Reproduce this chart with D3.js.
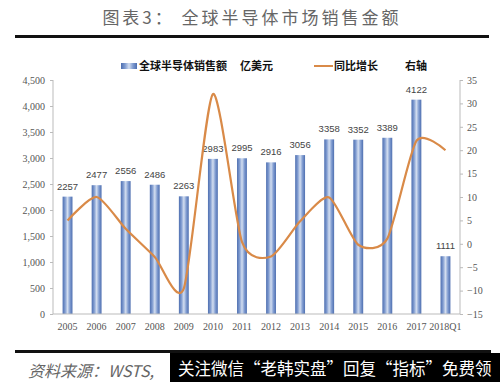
<!DOCTYPE html>
<html><head><meta charset="utf-8">
<script src="https://cdn.jsdelivr.net/npm/d3@7"></script>
<style>
html,body{margin:0;padding:0;background:#fff;}
svg{display:block;}
</style></head>
<body>
<script>
const categories = ["2005","2006","2007","2008","2009","2010","2011","2012","2013","2014","2015","2016","2017","2018Q1"];
const sales = [2257,2477,2556,2486,2263,2983,2995,2916,3056,3358,3352,3389,4122,1111];
const growth = [5,10,3.2,-2.8,-9.5,32,0.4,-2.7,4.8,9.9,-0.2,1.1,22,20];
const leftTicks = [0,500,1000,1500,2000,2500,3000,3500,4000,4500];
const rightTicks = [-15,-10,-5,0,5,10,15,20,25,30,35];

const W=500,H=382;
const svg=d3.select("body").append("svg").attr("width",W).attr("height",H);
const defs=svg.append("defs");
const g=defs.append("linearGradient").attr("id","bar").attr("x1","0").attr("x2","1").attr("y1","0").attr("y2","0");
[[0,"#4e6fb0"],[0.25,"#7f9bd0"],[0.5,"#d3def0"],[0.75,"#7f9bd0"],[1,"#4e6fb0"]].forEach(s=>g.append("stop").attr("offset",s[0]).attr("stop-color",s[1]));

const pL=53,pR=460,pT=80,pB=314;
const x=d3.scaleBand().domain(categories).range([pL,pR]).paddingInner(0.66).paddingOuter(0.33);
const yL=d3.scaleLinear().domain([0,4500]).range([pB,pT]);
const yR=d3.scaleLinear().domain([-15,35]).range([pB,pT]);

// title
svg.append("text").attr("x",252).attr("y",24).attr("text-anchor","middle")
  .attr("font-family","Noto Sans CJK SC").attr("font-size",17).attr("fill","#666")
  .attr("letter-spacing",3).text("图表3：  全球半导体市场销售金额");
svg.append("rect").attr("x",15).attr("y",35).attr("width",474).attr("height",3).attr("fill","#111");

// bars
svg.append("g").selectAll("rect").data(sales).join("rect")
  .attr("x",(d,i)=>x(categories[i])).attr("width",x.bandwidth())
  .attr("y",d=>yL(d)).attr("height",d=>pB-yL(d)).attr("fill","url(#bar)");
svg.append("g").selectAll("text").data(sales).join("text")
  .attr("x",(d,i)=>x(categories[i])+x.bandwidth()/2).attr("y",d=>yL(d)-7)
  .attr("text-anchor","middle").attr("font-family","Liberation Sans Narrow, Liberation Sans").attr("font-size",9.5).attr("fill","#444")
  .text(d=>d);

// line
const line=d3.line().x((d,i)=>x(categories[i])+x.bandwidth()/2).y(d=>yR(d)).curve(d3.curveCardinal.tension(0.3));
svg.append("path").datum(growth).attr("d",line).attr("fill","none").attr("stroke","#d98a48").attr("stroke-width",2.2);

// axes
const axL=svg.append("g").attr("transform",`translate(${pL},0)`).call(d3.axisLeft(yL).tickValues(leftTicks).tickSize(3).tickFormat(d3.format(",")));
const axR=svg.append("g").attr("transform",`translate(${pR},0)`).call(d3.axisRight(yR).tickValues(rightTicks).tickSize(3).tickFormat(d=>d<0?"−"+Math.abs(d):d));
const axB=svg.append("g").attr("transform",`translate(0,${pB})`).call(d3.axisBottom(x).tickSize(0).tickPadding(9));
[axL,axR,axB].forEach(a=>{
  a.selectAll("path,line").attr("stroke","#bbb");
  a.selectAll("text").attr("font-family","Liberation Serif").attr("font-size",10).attr("fill","#555");
});
axL.select(".domain").attr("d",`M0,${pT}V${pB}`);
axR.select(".domain").attr("d",`M0,${pT}V${pB}`);
axB.select(".domain").attr("d",`M${pL},0H${pR}`);
axL.selectAll("text").attr("x",-8);
axR.selectAll("text").attr("x",7);

// legend
const lg=svg.append("g");
lg.append("rect").attr("x",121).attr("y",63).attr("width",16).attr("height",6).attr("fill","url(#bar)");
lg.append("text").attr("x",139).attr("y",70).attr("font-family","Noto Sans CJK SC").attr("font-weight","bold").attr("font-size",11).attr("fill","#111").text("全球半导体销售额");
lg.append("text").attr("x",240).attr("y",70).attr("font-family","Noto Sans CJK SC").attr("font-weight","bold").attr("font-size",11).attr("fill","#111").text("亿美元");
lg.append("line").attr("x1",314).attr("x2",333).attr("y1",66).attr("y2",66).attr("stroke","#d98a48").attr("stroke-width",2);
lg.append("text").attr("x",334).attr("y",70).attr("font-family","Noto Sans CJK SC").attr("font-weight","bold").attr("font-size",11).attr("fill","#111").text("同比增长");
lg.append("text").attr("x",405).attr("y",70).attr("font-family","Noto Sans CJK SC").attr("font-weight","bold").attr("font-size",11).attr("fill","#111").text("右轴");

// footer
svg.append("rect").attr("x",15).attr("y",350).attr("width",476).attr("height",3).attr("fill","#111");
svg.append("text").attr("x",28).attr("y",377).attr("font-family","Noto Sans CJK SC").attr("font-style","italic").attr("font-size",16).attr("fill","#666")
  .text("资料来源：WSTS,");
svg.append("rect").attr("x",170).attr("y",353).attr("width",330).attr("height",29).attr("fill","#000");
svg.append("text").attr("x",178).attr("y",375).attr("font-family","Noto Sans CJK SC").attr("font-size",16.5).attr("fill","#fff")
  .text("关注微信“老韩实盘”回复“指标”免费领");
</script>
</body></html>
